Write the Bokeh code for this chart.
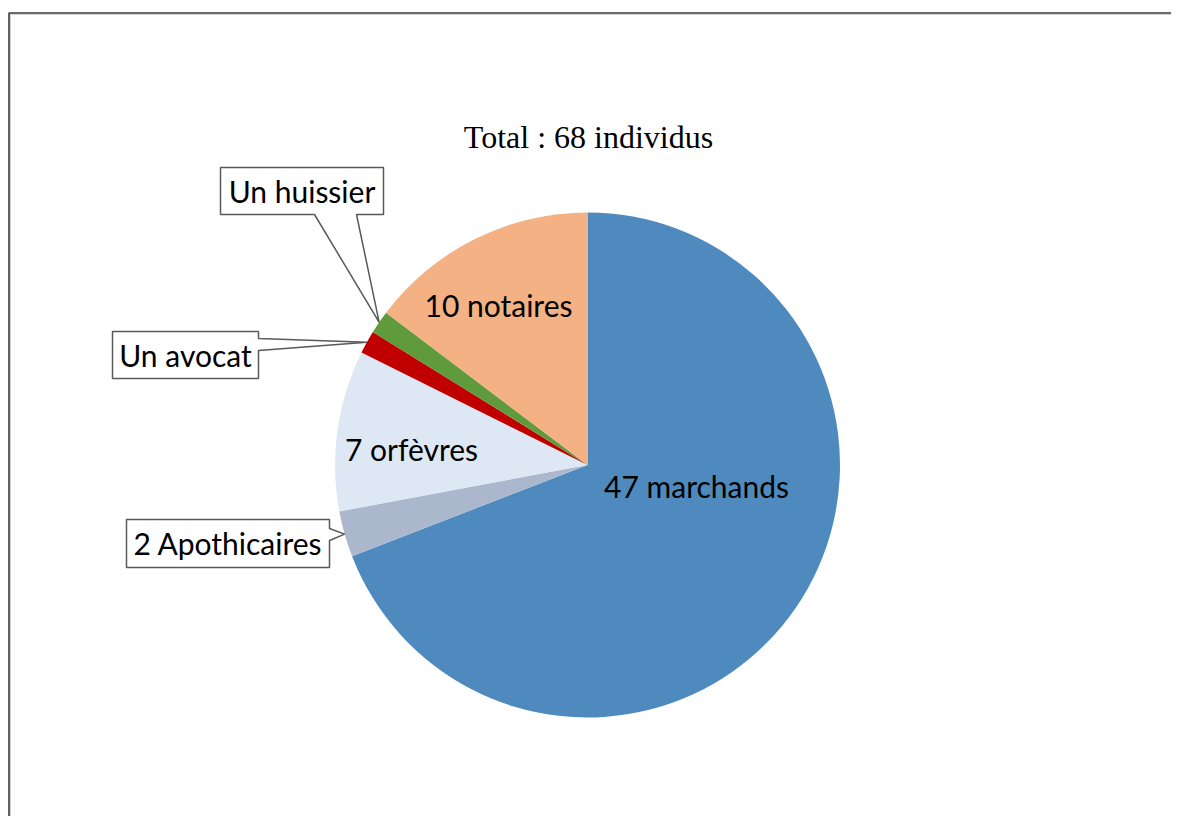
import numpy as np
from bokeh.plotting import figure
from bokeh.models import Range1d
from bokeh.core.properties import value
from bokeh.embed import file_html
from bokeh.resources import INLINE

# ---- data ----
categories = ["marchands", "Apothicaires", "orfèvres", "avocat", "huissier", "notaires"]
counts = [47, 2, 7, 1, 1, 10]
labels = ["47 marchands", "2 Apothicaires", "7 orfèvres", "Un avocat", "Un huissier", "10 notaires"]
colors = ["#4F8ABE", "#AAB7CC", "#DEE8F4", "#C00000", "#5F9A3D", "#F3B184"]
title_text = "Total : 68 individus"

# ---- layout (page pixel coordinates) ----
W, H = 1171, 816
TXT_SHIFT = 12  # compensate baseline placement


def px(X):
    return X


def py(Y):
    return H - Y


CX, CY, R = 587, 464.5, 252.5
LABEL_FONT = "Lato"
LABEL_SIZE = "30px"

# inside labels: (dx, dy_baseline) relative to pie centre, page pixels
inside_pos = {
    "marchands": (109, 32.5),
    "orfèvres": (-176, -4.5),
    "notaires": (-89, -148.5),
}
# callouts: box (x0, y0, x1, y1), pointer side, pointer base positions
callout_pos = {
    "huissier": ((220, 167, 383, 214), "bottom", (314, 356)),
    "avocat": ((112, 331, 258, 378), "right", (338, 350)),
    "Apothicaires": ((126, 519, 329, 567), "right", (528, 540)),
}

p = figure(width=W, height=H, x_range=Range1d(0, W), y_range=Range1d(0, H),
           output_backend="svg", toolbar_location=None,
           x_axis_type=None, y_axis_type=None, min_border=0,
           outline_line_color=None, background_fill_color="white")

# frame
top = py(12.5)
p.line(x=[8.5, 8.5, W], y=[0, top, top], line_color="#3a3a3a", line_width=1.6)
p.line(x=[10, 10, W], y=[0, top - 1.5, top - 1.5], line_color="#d0d0d0", line_width=1)

# pie
vals = np.array(counts, dtype=float)
frac = vals / vals.sum()
cum = np.concatenate([[0.0], np.cumsum(frac)])
start = np.pi / 2 - 2 * np.pi * cum[:-1]
end = np.pi / 2 - 2 * np.pi * cum[1:]
mid = (start + end) / 2
p.wedge(x=px(CX), y=py(CY), radius=R, start_angle=start, end_angle=end,
        direction="clock", fill_color=colors, line_color=None)

# inside labels
for i, cat in enumerate(categories):
    if cat in inside_pos:
        dx, dy = inside_pos[cat]
        p.text(x=[px(CX + dx)], y=[py(CY + dy - TXT_SHIFT)], text=[labels[i]],
               text_font=value(LABEL_FONT), text_font_size=LABEL_SIZE,
               text_align="center", text_baseline="alphabetic", text_color="black")

# callouts
for i, cat in enumerate(categories):
    if cat not in callout_pos:
        continue
    (x0, y0, x1, y1), side, (b0, b1) = callout_pos[cat]
    tx = CX + R * np.cos(mid[i])
    ty = CY - R * np.sin(mid[i])
    if side == "right":
        pts = [(x0, y0), (x1, y0), (x1, b0), (tx, ty), (x1, b1), (x1, y1), (x0, y1)]
    else:
        pts = [(x0, y0), (x1, y0), (x1, y1), (b1, y1), (tx, ty), (b0, y1), (x0, y1)]
    xs = [px(a) for a, b in pts]
    ys = [py(b) for a, b in pts]
    p.patch(x=xs, y=ys, fill_color="white", line_color="#595959", line_width=1.5)
    p.text(x=[px((x0 + x1) / 2)], y=[py(y0 + 35 - TXT_SHIFT)], text=[labels[i]],
           text_font=value(LABEL_FONT), text_font_size=LABEL_SIZE,
           text_align="center", text_baseline="alphabetic", text_color="black")

# title
p.text(x=[px(588)], y=[py(148 - TXT_SHIFT)], text=[title_text],
       text_font=value("Liberation Serif"), text_font_size="32px",
       text_align="center", text_baseline="alphabetic", text_color="black")

open("out.html", "w").write(file_html(p, INLINE))
